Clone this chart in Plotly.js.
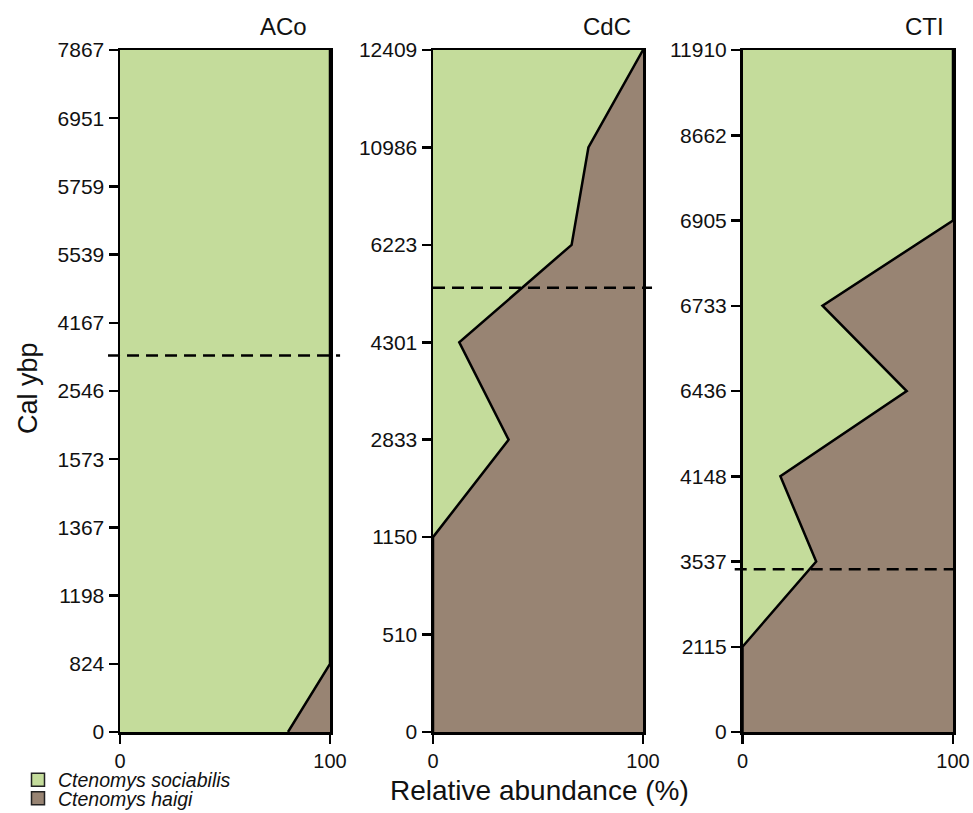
<!DOCTYPE html>
<html>
<head>
<meta charset="utf-8">
<script src="https://cdn.plot.ly/plotly-3.0.1.min.js"></script>
<style>html,body{margin:0;padding:0;background:#fff;}#chart{width:973px;height:813px;}</style>
</head>
<body>
<div id="chart"></div>
<script>
// Site names
const sites = ['ACo', 'CdC', 'CTI'];

// Sample ages (Cal ybp) per site, from bottom (youngest) to top (oldest)
const agesACo = ['0', '824', '1198', '1367', '1573', '2546', '4167', '5539', '5759', '6951', '7867'];
const agesCdC = ['0', '510', '1150', '2833', '4301', '6223', '10986', '12409'];
const agesCTI = ['0', '2115', '3537', '4148', '6436', '6733', '6905', '8662', '11910'];

// Relative abundance (%) of Ctenomys sociabilis at each sample level
const sociabilisACo = [80, 100, 100, 100, 100, 100, 100, 100, 100, 100, 100];
const sociabilisCdC = [0, 0, 0, 36, 12.5, 66, 74, 100];
const sociabilisCTI = [0, 0, 35, 18, 78, 38, 100, 100, 100];

// Relative abundance (%) of Ctenomys haigi at each sample level
const haigiACo = [20, 0, 0, 0, 0, 0, 0, 0, 0, 0, 0];
const haigiCdC = [100, 100, 100, 64, 87.5, 34, 26, 0];
const haigiCTI = [100, 100, 65, 82, 22, 62, 0, 0, 0];

// Dashed transition level per site (in sample-level units)
const transitionLevel = [5.52, 4.56, 1.91];

const GREEN = '#c4dc9b';
const BROWN = '#988473';
const FONT = 'Liberation Sans, Arial, sans-serif';

const ages = [agesACo, agesCdC, agesCTI];
const soc = [sociabilisACo, sociabilisCdC, sociabilisCTI];
const hai = [haigiACo, haigiCdC, haigiCTI];

const W = 973, H = 813;
const px = v => v / W;
const py = v => 1 - v / H;
const xDomains = [[px(120), px(330)], [px(433), px(643)], [px(742.5), px(953)]];
const yDomain = [py(732), py(50)];
const dashExt = [[-0.057, 1.048], [0, 1.043], [-0.037, 1.044]];

const traces = [];
const legendFont = {family: FONT, size: 19.5, color: '#111', style: 'italic'};
const layout = {
  width: W, height: H,
  margin: {l: 0, r: 0, t: 0, b: 0, autoexpand: false},
  paper_bgcolor: '#fff',
  plot_bgcolor: '#fff',
  font: {family: FONT, color: '#111', size: 19},
  showlegend: true,
  legend: {
    x: px(18), y: py(780), xanchor: 'left', yanchor: 'middle',
    bgcolor: 'rgba(0,0,0,0)', font: legendFont, traceorder: 'normal', itemclick: false
  },
  legend2: {
    x: px(18), y: py(798.5), xanchor: 'left', yanchor: 'middle',
    bgcolor: 'rgba(0,0,0,0)', font: legendFont, traceorder: 'normal', itemclick: false
  },
  shapes: [],
  annotations: []
};

sites.forEach((site, i) => {
  const sfx = i === 0 ? '' : String(i + 1);
  const xa = 'x' + sfx, ya = 'y' + sfx;
  const levels = ages[i].map((_, k) => k);
  traces.push({
    type: 'scatter', mode: 'lines', x: soc[i], y: levels,
    xaxis: xa, yaxis: ya, stackgroup: 'g' + i, orientation: 'h',
    fillcolor: GREEN, line: {color: '#000', width: 2.5}, showlegend: false,
    hoverinfo: 'skip', name: 'Ctenomys sociabilis'
  });
  traces.push({
    type: 'scatter', mode: 'lines', x: hai[i], y: levels,
    xaxis: xa, yaxis: ya, stackgroup: 'g' + i, orientation: 'h',
    fillcolor: BROWN, line: {color: '#000', width: 0}, showlegend: false,
    hoverinfo: 'skip', name: 'Ctenomys haigi'
  });
  layout['xaxis' + sfx] = {
    domain: xDomains[i], anchor: ya, range: [0, 100],
    tickvals: [0, 100], ticktext: ['0', '100'],
    ticks: 'outside', ticklen: 9, tickwidth: 2.5, tickcolor: '#000',
    showline: true, mirror: true, linecolor: '#000', linewidth: 2.5,
    showgrid: false, zeroline: false, fixedrange: true, automargin: false,
    tickfont: {family: FONT, size: 20, color: '#111'}
  };
  layout['yaxis' + sfx] = {
    domain: yDomain, anchor: xa, range: [0, ages[i].length - 1],
    tickvals: levels, ticktext: ages[i],
    ticks: 'outside', ticklen: 9, tickwidth: 2.5, tickcolor: '#000',
    showline: true, mirror: true, linecolor: '#000', linewidth: 2.5,
    showgrid: false, zeroline: false, fixedrange: true, automargin: false,
    tickfont: {family: FONT, size: 21, color: '#111'}
  };
  layout.shapes.push({
    type: 'line', xref: xa + ' domain', yref: ya,
    x0: dashExt[i][0], x1: dashExt[i][1], y0: transitionLevel[i], y1: transitionLevel[i],
    line: {color: '#000', width: 2.5, dash: '12px,7px'}, layer: 'above'
  });
});

// legend entries
traces.push({type: 'scatter', mode: 'markers', x: [null], y: [null], name: 'Ctenomys sociabilis', legend: 'legend',
  marker: {symbol: 'square', size: 13, color: GREEN, line: {color: '#222', width: 1.5}}, showlegend: true});
traces.push({type: 'scatter', mode: 'markers', x: [null], y: [null], name: 'Ctenomys haigi', legend: 'legend2',
  marker: {symbol: 'square', size: 13, color: BROWN, line: {color: '#222', width: 1.5}}, showlegend: true});

// panel titles
const titleX = [283, 607, 924];
sites.forEach((s, i) => layout.annotations.push({
  text: s, xref: 'paper', yref: 'paper', x: px(titleX[i]), y: py(26),
  xanchor: 'center', yanchor: 'middle', showarrow: false,
  font: {family: FONT, size: 24, color: '#111'}
}));
layout.annotations.push({
  text: 'Relative abundance (%)', xref: 'paper', yref: 'paper', x: px(539), y: py(790),
  xanchor: 'center', yanchor: 'middle', showarrow: false,
  font: {family: FONT, size: 28, color: '#111'}
});
layout.annotations.push({
  text: 'Cal ybp', xref: 'paper', yref: 'paper', x: px(28), y: py(388),
  xanchor: 'center', yanchor: 'middle', showarrow: false, textangle: -90,
  font: {family: FONT, size: 27, color: '#111'}
});

Plotly.newPlot('chart', traces, layout, {displayModeBar: false, staticPlot: true});
</script>
</body>
</html>
